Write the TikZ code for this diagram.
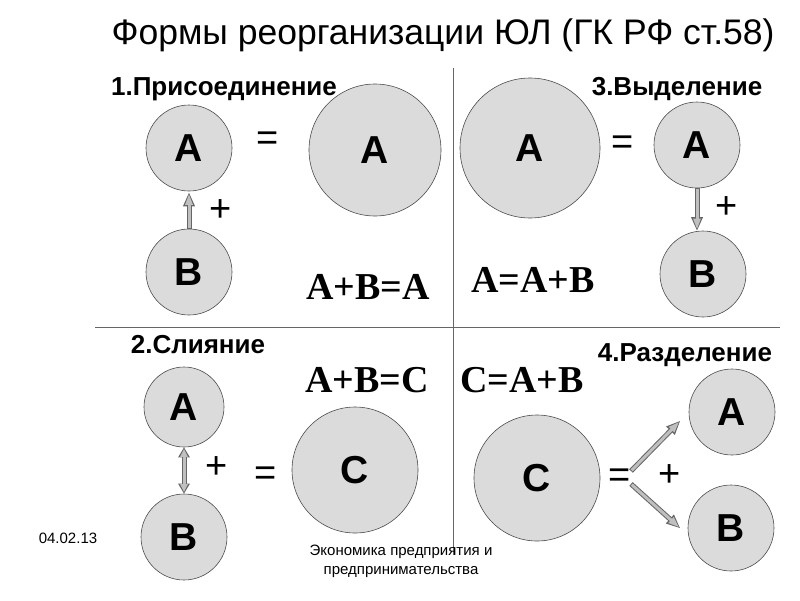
\documentclass[tikz,border=0pt]{standalone}
\usepackage{fontspec}
\setmainfont{Liberation Sans}
\newfontfamily\tms{Liberation Serif}
\usetikzlibrary{arrows.meta}
\tikzset{
 circ/.style={circle,draw=black!70,fill=black!14,line width=0.6pt,inner sep=0pt,font=\fontsize{39}{39}\selectfont\bfseries},
 sign/.style={font=\fontsize{38}{38}\selectfont},
 formula/.style={font=\fontsize{38}{38}\selectfont\tms\bfseries},
 head/.style={font=\fontsize{26}{27}\selectfont\bfseries},
 blk/.style={line width=5pt,draw=black!60,-{Triangle[length=14pt,width=11pt]},shorten >=1pt},
 blkin/.style={line width=3pt,draw=black!25,-{Triangle[length=11pt,width=7pt]},shorten >=2.5pt,shorten <=1pt},
 blkd/.style={line width=5pt,draw=black!60,{Triangle[length=10pt,width=11pt]}-{Triangle[length=10pt,width=11pt]}},
 blkdin/.style={line width=3pt,draw=black!25,{Triangle[length=8pt,width=7pt]}-{Triangle[length=8pt,width=7pt]},shorten >=1.5pt,shorten <=1.5pt},
}
\begin{document}
\begin{tikzpicture}[x=1pt,y=-1pt]
\useasboundingbox (0,0) rectangle (800,600);
\node[font=\fontsize{35.5}{36}\selectfont] (title) at (443,35) {Формы реорганизации ЮЛ (ГК РФ ст.58)};
\coordinate (v1) at (453,68); \coordinate (v2) at (453,555);
\coordinate (h1) at (95,327); \coordinate (h2) at (780,327);
\draw[black!60,line width=0.8pt] (v1)--(v2) (h1)--(h2);
\node[head] (l1) at (224,89) {1.Присоединение};
\node[head] (l3) at (677,89) {3.Выделение};
\node[head] (l2) at (198,345) {2.Слияние};
\node[head] (l4) at (685,355) {4.Разделение};
% Q1
\node[circ,minimum size=86pt] (a1) at (189,148) {A};
\node[circ,minimum size=86pt] (b1) at (189,272) {B};
\node[circ,minimum size=132pt] (A1) at (375,150) {A};
\node[sign] (e1) at (268,141) {=};
\node[sign] (p1) at (221,211) {+};
\draw[blk] (b1.north)--(a1.south); \draw[blkin] (b1.north)--(a1.south);
\node[formula] (f1) at (368,287) {A+B=A};
% Q3
\node[circ,minimum size=140pt] (A3) at (530,148) {A};
\node[circ,minimum size=86pt] (a3) at (697,145) {A};
\node[circ,minimum size=86pt] (b3) at (703,274) {B};
\node[sign] (e3) at (623,145) {=};
\node[sign] (p3) at (727,208) {+};
\coordinate (t3) at (697,232);
\draw[blk] (a3.south)--(t3); \draw[blkin] (a3.south)--(t3);
\node[formula] (f3) at (533,280) {A=A+B};
% Q2
\node[circ,minimum size=80pt] (a2) at (184,407) {A};
\node[circ,minimum size=86pt] (b2) at (184,537) {B};
\node[circ,minimum size=126pt] (C2) at (355,470) {C};
\node[sign] (p2) at (217,468) {+};
\node[sign] (e2) at (266,476) {=};
\draw[blkd] (a2.south)--(b2.north); \draw[blkdin] (a2.south)--(b2.north);
\node[formula] (f2) at (367,380) {A+B=C};
% Q4
\node[circ,minimum size=126pt] (C4) at (537,478) {C};
\node[circ,minimum size=86pt] (a4) at (732,412) {A};
\node[circ,minimum size=86pt] (b4) at (731,528) {B};
\node[sign] (e4) at (620,478) {=};
\node[sign] (p4) at (670,476) {+};
\coordinate (s4a) at (631,471); \coordinate (t4a) at (681,420);
\coordinate (s4b) at (631,484); \coordinate (t4b) at (681,529);
\draw[blk] (s4a)--(t4a); \draw[blkin] (s4a)--(t4a);
\draw[blk] (s4b)--(t4b); \draw[blkin] (s4b)--(t4b);
\node[formula] (f4) at (522,380) {C=A+B};
% footer
\node[font=\fontsize{15}{18}\selectfont] (date) at (68,538) {04.02.13};
\node[align=center,font=\fontsize{15}{19}\selectfont] (foot) at (401,561) {Экономика предприятия и\\ предпринимательства};
\end{tikzpicture}
\end{document}
